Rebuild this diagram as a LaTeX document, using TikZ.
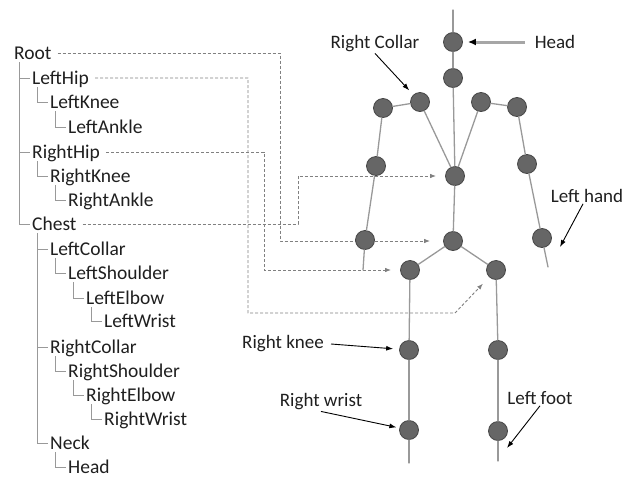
\documentclass[tikz,border=0pt]{standalone}
\usepackage{fontspec}
\setmainfont{Carlito}
\usetikzlibrary{arrows.meta,backgrounds}

\begin{document}
\begin{tikzpicture}[x=1pt,y=-1pt]
\tikzset{
  treelabel/.style={anchor=base west,inner sep=1pt,text height=12pt,text depth=0pt,text=black!88,font=\fontsize{19.5}{23}\selectfont},
  treeline/.style={draw=black!40,line width=1pt},
  jointnode/.style={circle,fill=black!60,draw=black!72,line width=0.8pt,minimum size=19pt,inner sep=0pt},
  bone/.style={draw=black!40,line width=1.3pt,line cap=round},
  maplink/.style={draw=black!50,line width=0.9pt,dash pattern=on 3pt off 2pt,-{Latex[length=6pt,width=4.5pt]},shorten >=9pt},
  calloutlabel/.style={inner sep=1pt,text=black!88,font=\fontsize{19}{23}\selectfont},
  callout/.style={draw=black,line width=0.9pt,-{Latex[length=7pt,width=5pt]}}
}
\useasboundingbox (0,0) rectangle (634,477);
% hierarchy
\node[treelabel] (t_root) at (13,59) {Root};
\node[treelabel] (t_lefthip) at (31,84) {LeftHip};
\node[treelabel] (t_leftknee) at (49,108) {LeftKnee};
\node[treelabel] (t_leftankle) at (67,133) {LeftAnkle};
\node[treelabel] (t_righthip) at (31,158) {RightHip};
\node[treelabel] (t_rightknee) at (49,182) {RightKnee};
\node[treelabel] (t_rightankle) at (67,206) {RightAnkle};
\node[treelabel] (t_chest) at (31,230) {Chest};
\node[treelabel] (t_leftcollar) at (49,255) {LeftCollar};
\node[treelabel] (t_leftshoulder) at (67,279) {LeftShoulder};
\node[treelabel] (t_leftelbow) at (85,304) {LeftElbow};
\node[treelabel] (t_leftwrist) at (103,327) {LeftWrist};
\node[treelabel] (t_rightcollar) at (49,353) {RightCollar};
\node[treelabel] (t_rightshoulder) at (67,377) {RightShoulder};
\node[treelabel] (t_rightelbow) at (85,401) {RightElbow};
\node[treelabel] (t_rightwrist) at (103,425) {RightWrist};
\node[treelabel] (t_neck) at (49,449) {Neck};
\node[treelabel] (t_head) at (67,473) {Head};
\draw[treeline] ([xshift=6pt,yshift=-2pt]t_root.south west) |- ([xshift=-1pt]t_lefthip.west);
\draw[treeline] ([xshift=6pt,yshift=-2pt]t_root.south west) |- ([xshift=-1pt]t_righthip.west);
\draw[treeline] ([xshift=6pt,yshift=-2pt]t_root.south west) |- ([xshift=-1pt]t_chest.west);
\draw[treeline] ([xshift=6pt,yshift=-2pt]t_lefthip.south west) |- ([xshift=-1pt]t_leftknee.west);
\draw[treeline] ([xshift=6pt,yshift=-2pt]t_leftknee.south west) |- ([xshift=-1pt]t_leftankle.west);
\draw[treeline] ([xshift=6pt,yshift=-2pt]t_righthip.south west) |- ([xshift=-1pt]t_rightknee.west);
\draw[treeline] ([xshift=6pt,yshift=-2pt]t_rightknee.south west) |- ([xshift=-1pt]t_rightankle.west);
\draw[treeline] ([xshift=6pt,yshift=-2pt]t_chest.south west) |- ([xshift=-1pt]t_leftcollar.west);
\draw[treeline] ([xshift=6pt,yshift=-2pt]t_chest.south west) |- ([xshift=-1pt]t_rightcollar.west);
\draw[treeline] ([xshift=6pt,yshift=-2pt]t_chest.south west) |- ([xshift=-1pt]t_neck.west);
\draw[treeline] ([xshift=6pt,yshift=-2pt]t_leftcollar.south west) |- ([xshift=-1pt]t_leftshoulder.west);
\draw[treeline] ([xshift=6pt,yshift=-2pt]t_leftshoulder.south west) |- ([xshift=-1pt]t_leftelbow.west);
\draw[treeline] ([xshift=6pt,yshift=-2pt]t_leftelbow.south west) |- ([xshift=-1pt]t_leftwrist.west);
\draw[treeline] ([xshift=6pt,yshift=-2pt]t_rightcollar.south west) |- ([xshift=-1pt]t_rightshoulder.west);
\draw[treeline] ([xshift=6pt,yshift=-2pt]t_rightshoulder.south west) |- ([xshift=-1pt]t_rightelbow.west);
\draw[treeline] ([xshift=6pt,yshift=-2pt]t_rightelbow.south west) |- ([xshift=-1pt]t_rightwrist.west);
\draw[treeline] ([xshift=6pt,yshift=-2pt]t_neck.south west) |- ([xshift=-1pt]t_head.west);
% skeleton
\node[jointnode] (j_head) at (453,42) {};
\node[jointnode] (j_neck) at (453,78) {};
\node[jointnode] (j_chest) at (455,176) {};
\node[jointnode] (j_hip) at (453,241) {};
\node[jointnode] (j_rcollar) at (420,102) {};
\node[jointnode] (j_rshoulder) at (383,108) {};
\node[jointnode] (j_relbow) at (376,166) {};
\node[jointnode] (j_rwrist) at (365,240) {};
\node[jointnode] (j_lcollar) at (481,102) {};
\node[jointnode] (j_lshoulder) at (517,107) {};
\node[jointnode] (j_lelbow) at (527,164) {};
\node[jointnode] (j_lwrist) at (542,238) {};
\node[jointnode] (j_rhip) at (410,270) {};
\node[jointnode] (j_rknee) at (409,350) {};
\node[jointnode] (j_rfoot) at (409,430) {};
\node[jointnode] (j_lhip) at (496,270) {};
\node[jointnode] (j_lknee) at (498,350) {};
\node[jointnode] (j_lfoot) at (498,431) {};
\coordinate (c_top) at (453,10);
\coordinate (c_rwrist_end) at (363,270);
\coordinate (c_lwrist_end) at (548,267);
\coordinate (c_rfoot_end) at (409,463);
\coordinate (c_lfoot_end) at (498,461);
\draw[bone] (c_top) -- (j_head);
\draw[bone] (j_head) -- (j_neck);
\draw[bone] (j_neck) -- (j_chest);
\draw[bone] (j_chest) -- (j_hip);
\draw[bone] (j_chest) -- (j_rcollar);
\draw[bone] (j_rcollar) -- (j_rshoulder);
\draw[bone] (j_rshoulder) -- (j_relbow);
\draw[bone] (j_relbow) -- (j_rwrist);
\draw[bone] (j_rwrist) -- (c_rwrist_end);
\draw[bone] (j_chest) -- (j_lcollar);
\draw[bone] (j_lcollar) -- (j_lshoulder);
\draw[bone] (j_lshoulder) -- (j_lelbow);
\draw[bone] (j_lelbow) -- (j_lwrist);
\draw[bone] (j_lwrist) -- (c_lwrist_end);
\draw[bone] (j_hip) -- (j_rhip);
\draw[bone] (j_rhip) -- (j_rknee);
\draw[bone] (j_rknee) -- (j_rfoot);
\draw[bone] (j_rfoot) -- (c_rfoot_end);
\draw[bone] (j_hip) -- (j_lhip);
\draw[bone] (j_lhip) -- (j_lknee);
\draw[bone] (j_lknee) -- (j_lfoot);
\draw[bone] (j_lfoot) -- (c_lfoot_end);
% mapping
\begin{scope}[on background layer]
\draw[maplink,shorten >=13pt] ([xshift=5pt]t_root.east) -| (280,241) -- (j_hip);
\draw[maplink] ([xshift=5pt]t_lefthip.east) -| (248,313) -- (455,313) -- (j_lhip);
\draw[maplink] ([xshift=5pt]t_righthip.east) -| (264,270) -- (j_rhip);
\draw[maplink] ([xshift=5pt]t_chest.east) -| (298,176) -- (j_chest);
\end{scope}
% callouts
\node[calloutlabel] (l_rcollar) at (375,44) {Right Collar};
\node[calloutlabel] (l_head) at (555,42) {Head};
\node[calloutlabel] (l_lhand) at (587,196) {Left hand};
\node[calloutlabel] (l_rknee) at (283,344) {Right knee};
\node[calloutlabel] (l_rwrist) at (321,402) {Right wrist};
\node[calloutlabel] (l_lfoot) at (540,398) {Left foot};
\coordinate (a_lhand) at (560,247);
\coordinate (a_lfoot) at (507,448);
\draw[callout,shorten >=6pt] (l_rcollar.south) -- (j_rcollar);
\draw[callout,draw=black!35,line width=3pt,-{Latex[length=8pt,width=7pt,color=black]},shorten >=5pt] ([xshift=-9pt]l_head.west) -- (j_head);
\draw[callout] ([xshift=-4pt]l_lhand.south) -- (a_lhand);
\draw[callout,shorten >=6pt] ([xshift=6pt]l_rknee.east) -- (j_rknee);
\draw[callout,shorten >=3pt] (l_rwrist.south) -- (j_rfoot);
\draw[callout] (l_lfoot.south) -- (a_lfoot);
\end{tikzpicture}
\end{document}
